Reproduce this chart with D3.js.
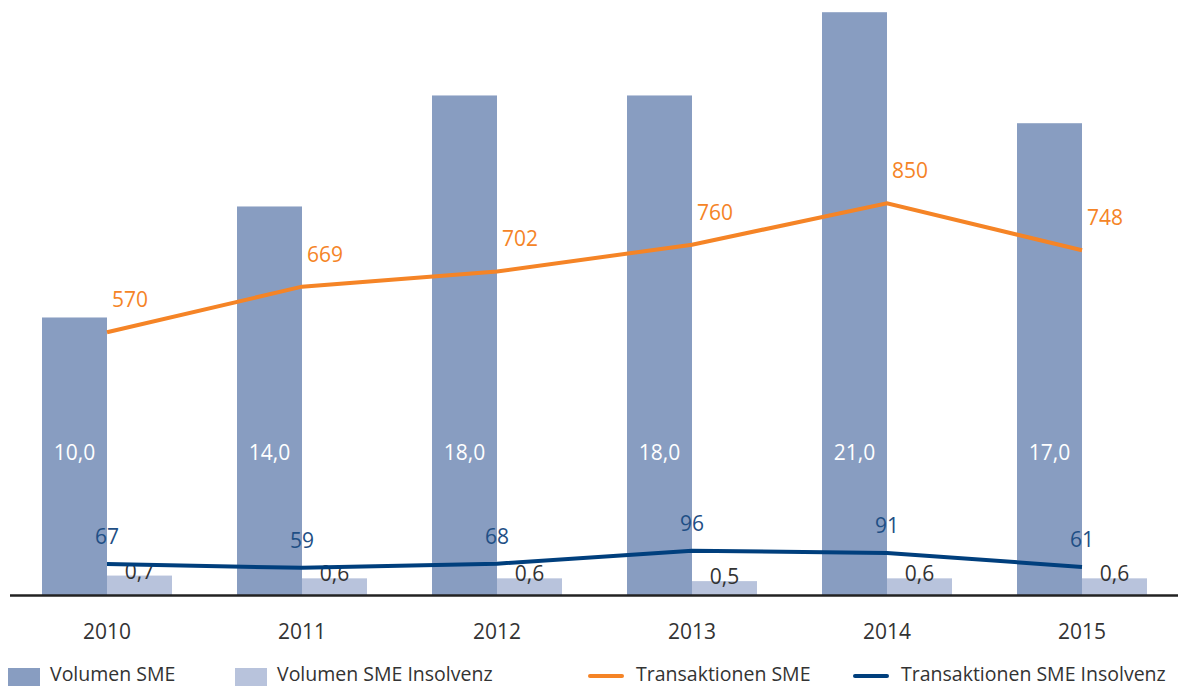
<!DOCTYPE html>
<html>
<head>
<meta charset="utf-8">
<script src="https://cdn.jsdelivr.net/npm/d3@7"></script>
<style>
  body { margin: 0; background: #fff; }
  text { font-family: "Open Sans", sans-serif; }
</style>
</head>
<body>
<div id="container"></div>
<script>
const width = 1178,
  height = 686,
  baseY = 595,
  fontSize = 21;

/* DATA */
const years = ["2010", "2011", "2012", "2013", "2014", "2015"];
const volumenSME = [10.0, 14.0, 18.0, 18.0, 21.0, 17.0];
const volumenInsolvenz = [0.7, 0.6, 0.6, 0.5, 0.6, 0.6];
const transaktionenSME = [570, 669, 702, 760, 850, 748];
const transaktionenInsolvenz = [67, 59, 68, 96, 91, 61];
const legendLabels = ["Volumen SME", "Volumen SME Insolvenz", "Transaktionen SME", "Transaktionen SME Insolvenz"];

const colors = {
  vol: "#889dc1",
  ins: "#b8c3dc",
  trans: "#f58426",
  transIns: "#003f7d"
};

const fmt = v => d3.format(".1f")(v).replace(".", ",");

/* SCALES */
const xScale = d3.scaleBand()
  .domain(years)
  .range([9.5, 1179.5]);

const subScale = d3.scaleBand()
  .domain(["vol", "ins"])
  .range([32.5, 162.5]);

const yBar = d3.scaleLinear()
  .domain([0, 21.44])
  .range([baseY, 0]);

const yLine = d3.scaleLinear()
  .domain([0, 1291])
  .range([baseY, 0]);

const center = d => xScale(d) + xScale.bandwidth() / 2;

/* SVG */
const svg = d3.select("#container")
  .append("svg")
  .attr("width", width)
  .attr("height", height);

// dark bars
svg.selectAll(".bar-vol")
  .data(years)
  .join("rect")
  .attr("class", "bar-vol")
  .attr("x", d => xScale(d) + subScale("vol"))
  .attr("y", (d, i) => yBar(volumenSME[i]))
  .attr("width", subScale.bandwidth())
  .attr("height", (d, i) => baseY - yBar(volumenSME[i]))
  .attr("fill", colors.vol);

// light bars
svg.selectAll(".bar-ins")
  .data(years)
  .join("rect")
  .attr("class", "bar-ins")
  .attr("x", d => xScale(d) + subScale("ins"))
  .attr("y", (d, i) => yBar(volumenInsolvenz[i]))
  .attr("width", subScale.bandwidth())
  .attr("height", (d, i) => baseY - yBar(volumenInsolvenz[i]))
  .attr("fill", colors.ins);

// white labels inside dark bars
svg.selectAll(".lbl-vol")
  .data(years)
  .join("text")
  .attr("x", d => xScale(d) + subScale("vol") + subScale.bandwidth() / 2)
  .attr("y", 460)
  .attr("text-anchor", "middle")
  .attr("font-size", fontSize)
  .attr("fill", "#fff")
  .text((d, i) => fmt(volumenSME[i]));

// labels on light bars
svg.selectAll(".lbl-ins")
  .data(years)
  .join("text")
  .attr("x", d => xScale(d) + subScale("ins") + subScale.bandwidth() / 2)
  .attr("y", (d, i) => yBar(volumenInsolvenz[i]) + 3)
  .attr("text-anchor", "middle")
  .attr("font-size", fontSize)
  .attr("fill", "#333")
  .text((d, i) => fmt(volumenInsolvenz[i]));

// axis
const xAxis = d3.axisBottom(xScale).tickSize(0);
const axisG = svg.append("g")
  .attr("transform", `translate(0, ${baseY})`)
  .call(xAxis);
axisG.select(".domain").attr("stroke", "#222").attr("stroke-width", 2.5);
axisG.selectAll("text")
  .attr("y", 44)
  .attr("dy", 0)
  .attr("font-size", fontSize)
  .attr("font-family", "Open Sans, sans-serif")
  .attr("fill", "#333");

// lines
const line = arr => d3.line()
  .x(d => center(d))
  .y((d, i) => yLine(arr[i]));

svg.append("path")
  .datum(years)
  .attr("d", line(transaktionenSME))
  .attr("fill", "none")
  .attr("stroke", colors.trans)
  .attr("stroke-width", 4);

svg.append("path")
  .datum(years)
  .attr("d", line(transaktionenInsolvenz))
  .attr("fill", "none")
  .attr("stroke", colors.transIns)
  .attr("stroke-width", 4);

svg.selectAll(".lbl-trans")
  .data(years)
  .join("text")
  .attr("x", (d, i) => center(d) + 23)
  .attr("y", (d, i) => yLine(transaktionenSME[i]) - 25)
  .attr("text-anchor", "middle")
  .attr("font-size", fontSize)
  .attr("fill", colors.trans)
  .text((d, i) => transaktionenSME[i]);

svg.selectAll(".lbl-transins")
  .data(years)
  .join("text")
  .attr("x", d => center(d))
  .attr("y", (d, i) => yLine(transaktionenInsolvenz[i]) - 20)
  .attr("text-anchor", "middle")
  .attr("font-size", fontSize)
  .attr("fill", "#1f4f85")
  .text((d, i) => transaktionenInsolvenz[i]);

/* LEGEND */
const legendX = [8, 235, 589, 854];
const legendColors = [colors.vol, colors.ins, colors.trans, colors.transIns];
const legend = svg.selectAll(".legend")
  .data(legendLabels)
  .join("g")
  .attr("transform", (d, i) => `translate(${legendX[i]}, 0)`);

legend.filter((d, i) => i < 2)
  .append("rect")
  .attr("x", 0)
  .attr("y", 668)
  .attr("width", 32)
  .attr("height", 18)
  .attr("fill", (d, i) => legendColors[i]);

legend.filter((d, i) => i >= 2)
  .append("line")
  .attr("x1", 1)
  .attr("x2", 33)
  .attr("y1", 676)
  .attr("y2", 676)
  .attr("stroke", (d, i) => legendColors[i + 2])
  .attr("stroke-width", 4)
  .attr("stroke-linecap", "round");

legend.append("text")
  .attr("x", (d, i) => i < 2 ? 42 : 47)
  .attr("y", 681)
  .attr("font-size", 19.5)
  .attr("fill", "#333")
  .text(d => d);
</script>
</body>
</html>
